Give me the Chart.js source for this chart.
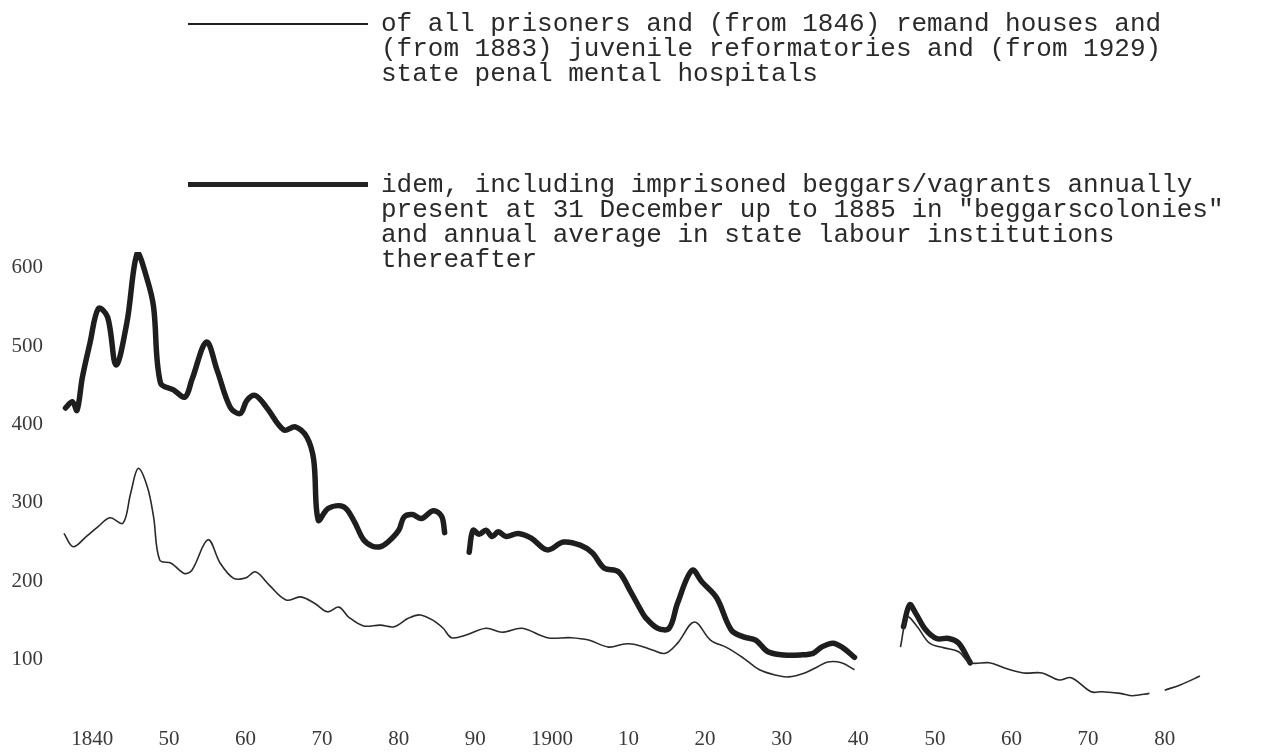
<!DOCTYPE html>
<html>
<head>
<meta charset="utf-8">
<script src="https://cdn.jsdelivr.net/npm/chart.js@4.4.1/dist/chart.umd.min.js"></script>
<style>
  html, body { margin: 0; padding: 0; background: #fff; }
  #wrap { position: relative; width: 1263px; height: 752px; overflow: hidden; }
  #chart { position: absolute; left: 0; top: 0; }
  .key { position: absolute; left: 188px; width: 180px; background: #222; }
  .txt {
    position: absolute; left: 381px; white-space: pre;
    font-family: "Liberation Mono", "Courier New", monospace;
    font-size: 26px; line-height: 25px; color: #2a2a2a;
  }
</style>
</head>
<body>
<div id="wrap">
  <canvas id="chart" width="1263" height="752"></canvas>
  <div class="key" style="top:23px;height:1.6px;"></div>
  <div class="txt" style="top:12px;">of all prisoners and (from 1846) remand houses and
(from 1883) juvenile reformatories and (from 1929)
state penal mental hospitals</div>
  <div class="key" style="top:182px;height:5px;"></div>
  <div class="txt" style="top:173px;">idem, including imprisoned beggars/vagrants annually
present at 31 December up to 1885 in "beggarscolonies"
and annual average in state labour institutions
thereafter</div>
</div>
<script>
// tick labels
const xTickYears = [1840, 1850, 1860, 1870, 1880, 1890, 1900, 1910, 1920, 1930, 1940, 1950, 1960, 1970, 1980];
const xTickLabels = ['1840', '50', '60', '70', '80', '90', '1900', '10', '20', '30', '40', '50', '60', '70', '80'];
const yTickValues = [100, 200, 300, 400, 500, 600];
const yTickLabels = ['100', '200', '300', '400', '500', '600'];

// thin line: all prisoners (null = break in the line)
const thinYears = [1836.3, 1837.5, 1839.2, 1840.8, 1842.3, 1844.0, 1845.0, 1846.0, 1847.2, 1848.0,
  1848.8, 1850.3, 1852.0, 1853.0, 1855.1, 1856.7, 1858.4, 1860.0, 1861.3, 1863.1,
  1865.3, 1867.2, 1869.0, 1870.7, 1872.2, 1873.5, 1875.4, 1877.6, 1879.4, 1881.3,
  1882.8, 1884.5, 1885.8, 1886.9, 1888.7, 1891.4, 1893.5, 1896.1, 1899.4, 1902.5,
  1904.8, 1907.4, 1909.5, 1911.0, 1913.2, 1914.8, 1916.4, 1918.6, 1920.7, 1922.9,
  1925.0, 1927.1, 1929.3, 1930.9, 1933.0, 1934.7, 1936.0, 1937.8, 1939.5, 1942.0,
  1945.5, 1946.4, 1947.7, 1949.3, 1951.2, 1953.1, 1954.6, 1957.1, 1959.2, 1961.6,
  1964.0, 1966.2, 1967.8, 1970.4, 1971.8, 1974.2, 1975.8, 1978.0, 1979.0,
  1980.0, 1982.1, 1984.6];
const thinValues = [261, 244, 257, 270, 281, 274, 312, 344, 320, 282,
  227, 223, 210, 214, 253, 223, 204, 204, 212, 195,
  176, 180, 172, 161, 167, 154, 143, 144, 142, 153,
  157, 150, 140, 128, 131, 140, 135, 140, 128, 128,
  125, 116, 120, 119, 112, 108, 121, 148, 125, 115,
  102, 87, 80, 78, 83, 91, 97, 96, 87, null,
  116, 154, 142, 121, 115, 110, 96, 96, 89, 83,
  83, 74, 77, 59, 59, 57, 54, 57, null,
  61, 68, 79];

// thick line: idem, including beggars/vagrants
const thickYears = [1836.5, 1837.4, 1838.0, 1838.7, 1839.7, 1840.8, 1842.0, 1843.1, 1844.5, 1845.9,
  1847.2, 1848.0, 1848.9, 1850.6, 1852.1, 1853.0, 1854.9, 1856.3, 1858.0, 1859.3,
  1860.2, 1861.3, 1862.8, 1865.0, 1866.5, 1868.0, 1868.9, 1869.5, 1870.8, 1872.8,
  1874.1, 1875.4, 1876.5, 1877.6, 1878.6, 1880.0, 1880.7, 1881.8, 1883.0, 1884.5,
  1885.6, 1886.0, 1887.5,
  1889.2, 1889.7, 1890.5, 1891.4, 1892.2, 1893.0, 1894.0, 1895.6, 1897.3, 1899.4,
  1901.5, 1903.7, 1905.3, 1906.8, 1908.7, 1910.2, 1911.5, 1912.2, 1913.8, 1915.3,
  1916.4, 1918.3, 1919.6, 1921.5, 1923.4, 1925.0, 1926.6, 1928.2, 1930.3, 1932.4,
  1934.1, 1935.2, 1936.7, 1938.0, 1939.5, 1942.0,
  1945.9, 1946.7, 1947.5, 1948.8, 1950.2, 1951.8, 1953.1, 1954.6];
const thickValues = [421, 429, 418, 460, 504, 548, 537, 476, 529, 619,
  584, 550, 453, 444, 435, 457, 505, 469, 422, 414,
  431, 437, 421, 393, 397, 384, 355, 278, 293, 295,
  278, 253, 245, 244, 250, 265, 282, 285, 280, 290,
  283, 262, null,
  237, 265, 260, 265, 257, 263, 257, 261, 255, 240,
  250, 246, 236, 217, 212, 188, 165, 154, 140, 140,
  172, 214, 199, 179, 138, 129, 125, 110, 106, 106,
  108, 116, 121, 115, 103, null,
  142, 170, 159, 138, 127, 127, 121, 96];

const toPoints = (xs, ys) => xs.map((x, i) => ({ x: x, y: ys[i] }));

const tickFont = { family: '"Liberation Serif", "Times New Roman", serif', size: 21 };

new Chart(document.getElementById('chart').getContext('2d'), {
  type: 'line',
  data: {
    datasets: [
      {
        label: 'all prisoners',
        data: toPoints(thinYears, thinValues),
        borderColor: '#2a2a2a',
        borderWidth: 1.6,
        pointRadius: 0,
        tension: 0.35,
        spanGaps: false
      },
      {
        label: 'incl. beggars/vagrants',
        data: toPoints(thickYears, thickValues),
        borderColor: '#1e1e1e',
        borderWidth: 5.5,
        borderCapStyle: 'round',
        borderJoinStyle: 'round',
        pointRadius: 0,
        tension: 0.35,
        spanGaps: false
      }
    ]
  },
  options: {
    responsive: false,
    animation: false,
    layout: { padding: { top: 252, right: 37, left: 0, bottom: 0 } },
    plugins: { legend: { display: false }, tooltip: { enabled: false } },
    scales: {
      x: {
        type: 'linear',
        min: 1835,
        max: 1988,
        grid: { display: false, drawTicks: false },
        border: { display: false },
        afterFit: (scale) => { scale.height = 37.5; },
        afterBuildTicks: (scale) => { scale.ticks = xTickYears.map(v => ({ value: v })); },
        ticks: {
          color: '#3a3a3a',
          font: tickFont,
          padding: 12,
          maxRotation: 0,
          autoSkip: false,
          callback: (value) => xTickLabels[xTickYears.indexOf(value)]
        }
      },
      y: {
        min: 30,
        max: 620,
        grid: { display: false, drawTicks: false },
        border: { display: false },
        afterFit: (scale) => { scale.width = 54; },
        afterBuildTicks: (scale) => { scale.ticks = yTickValues.map(v => ({ value: v })); },
        ticks: {
          color: '#3a3a3a',
          font: tickFont,
          padding: 11,
          callback: (value) => yTickLabels[yTickValues.indexOf(value)]
        }
      }
    }
  }
});
</script>
</body>
</html>
